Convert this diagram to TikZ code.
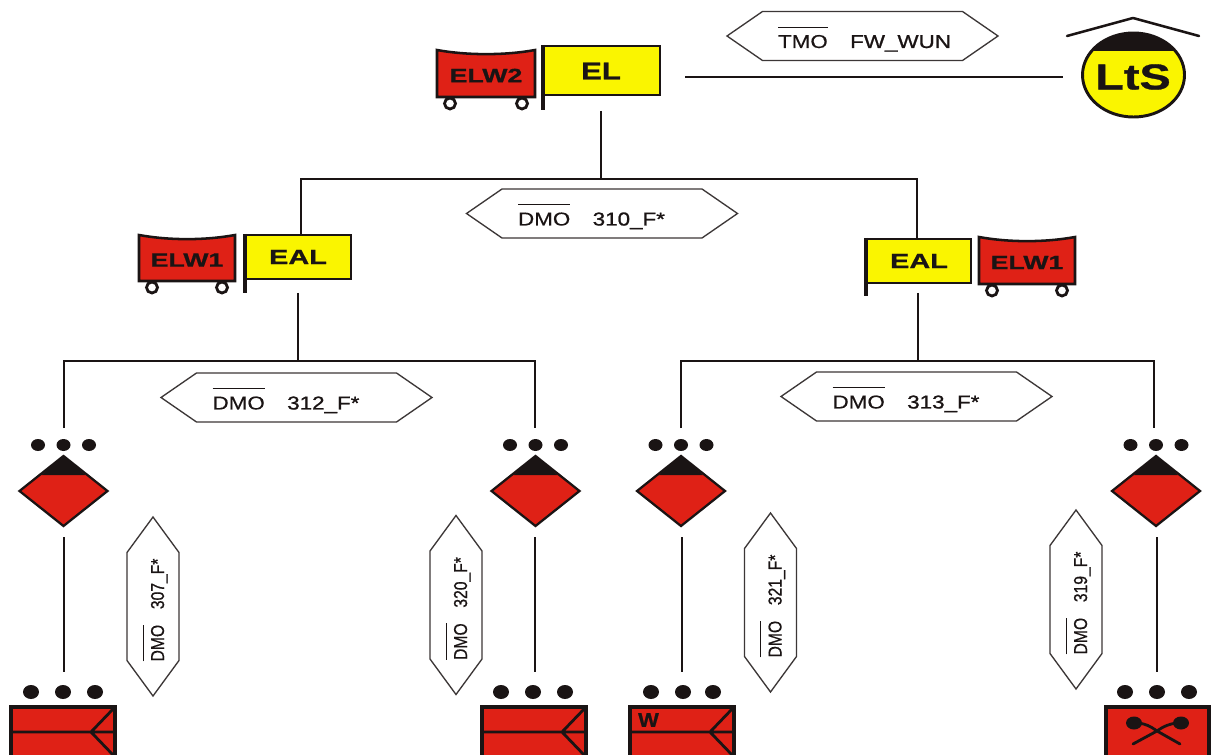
\documentclass[tikz,border=0pt]{standalone}
\usepackage{graphicx}
\usepackage{fontspec}
\setmainfont{Liberation Sans}
\newfontfamily\labf[FakeBold=0.35]{Liberation Sans}
\newfontfamily\labd[FakeBold=1.0]{Liberation Sans}
\newfontfamily\hvy[BoldFont={Liberation Sans Bold},BoldFeatures={FakeBold=0.8}]{Liberation Sans}
\definecolor{tred}{HTML}{DF2116}
\definecolor{tyel}{HTML}{FAF500}
\definecolor{tblk}{HTML}{1A1414}
\tikzset{
  conn/.style={draw=tblk,line width=1.8pt},
  hexa/.style={draw=tblk!85,line width=1pt,fill=white},
  flagbox/.style={draw=tblk,line width=2.2pt,line join=miter},
  flagpole/.style={draw=tblk,line width=3.4pt},
  unitbox/.style={draw=tblk,line width=2.3pt,fill=tred,line join=miter},
  unitline/.style={draw=tblk,line width=2.1pt},
  lab/.style={font=\fontsize{14}{14}\selectfont,inner sep=0pt,text=tblk},
  bigl/.style={font=\fontsize{15.5}{15.5}\selectfont\hvy\bfseries,inner sep=0pt,text=tblk},
}
\newcommand{\ovl}[1]{$\overline{\hbox{\rule{0pt}{1.02em}{\labf #1}}}$}
% horizontal hexagon: name, cx, cy, overlined, label, text shift
\newcommand{\hexH}[6]{%
  \draw[hexa] (#2-135.5,#3) -- (#2-100,#3-24.5) -- (#2+100,#3-24.5) -- (#2+135.5,#3) -- (#2+100,#3+24.5) -- (#2-100,#3+24.5) -- cycle;
  \node[lab,anchor=center] (#1) at (#2+#6,#3+3) {\scalebox{1.2}[1]{\ovl{#4}\hspace{14pt}{\labd #5}}};}
% vertical hexagon
\newcommand{\hexV}[5]{%
  \draw[hexa] (#2,#3-89.5) -- (#2+26,#3-54) -- (#2+26,#3+54) -- (#2,#3+89.5) -- (#2-26,#3+54) -- (#2-26,#3-54) -- cycle;
  \node[lab,anchor=center,rotate=90] (#1) at (#2+2,#3+3.5) {\scalebox{.84}[1]{\ovl{#4}\hspace{14pt}{\labd #5}}};}
% cart: name, x1, x2, ytop, ybot, text
\newcommand{\cart}[6]{%
  \draw[draw=tblk,line width=1.9pt,fill=tred] (#2,#4) .. controls (#2+30,#4+5.5) and (#3-30,#4+5.5) .. (#3,#4) -- (#3,#5) -- (#2,#5) -- cycle;
  \draw[draw=tblk,line width=2.1pt,fill=white] (#2+13,#5+6.5) circle [radius=5.5];
  \draw[draw=tblk,line width=2.1pt,fill=white] (#3-13,#5+6.5) circle [radius=5.5];
  \node[inner sep=0pt,text=tblk,font=\fontsize{14.5}{14.5}\selectfont\hvy\bfseries] (#1) at ({(#2+#3)/2},{(#4+#5)/2+2}) {\scalebox{1.38}[1]{#6}};}
% rank diamond with dots: name, cx, cy
\newcommand{\rankdia}[3]{%
  \foreach \dx in {-25.5,0,25.5}{\fill[tblk] (#2+\dx,#3-46) ellipse [x radius=7,y radius=6];}
  \draw[draw=tblk,line width=1.7pt,fill=tred,line join=miter] (#2-44,#3) -- (#2,#3-35) -- (#2+44,#3) -- (#2,#3+35) -- cycle;
  \fill[tblk] (#2,#3-35) -- (#2+22,#3-16) -- (#2-22,#3-16) -- cycle;
  \node[inner sep=0pt,minimum size=0pt] (#1) at (#2,#3) {};}
% unit dots: name, x1, x2, x3
\newcommand{\unitdots}[4]{%
  \foreach \xx in {#2,#3,#4}{\fill[tblk] (\xx,692) ellipse [x radius=8,y radius=7];}
  \coordinate (#1) at (#3,692);}
\begin{document}
\begin{tikzpicture}[x=0.75pt,y=-0.75pt]
\useasboundingbox (0,0) rectangle (1213,755);
\fill[white] (0,0) rectangle (1213,755);
\clip (0,0) rectangle (1213,755);

% junction coordinates
\coordinate (elb) at (601,111);
\coordinate (j0) at (601,179);
\coordinate (j0l) at (301,179);
\coordinate (j0r) at (917,179);
\coordinate (ealLt) at (301,234);
\coordinate (ealRt) at (917,238);
\coordinate (ealLb) at (298,293);
\coordinate (ealRb) at (918,293);
\coordinate (j1) at (298,361);
\coordinate (j1l) at (64,361);
\coordinate (j1r) at (535,361);
\coordinate (j2) at (918,361);
\coordinate (j2l) at (681,361);
\coordinate (j2r) at (1154,361);
\coordinate (d1t) at (64,428);
\coordinate (d2t) at (535,428);
\coordinate (d3t) at (681,428);
\coordinate (d4t) at (1154,428);
\coordinate (d1b) at (64,537);
\coordinate (d2b) at (535,537);
\coordinate (d3b) at (682,537);
\coordinate (d4b) at (1157,537);
\coordinate (u1t) at (64,672);
\coordinate (u2t) at (535,672);
\coordinate (u3t) at (682,672);
\coordinate (u4t) at (1157,672);
\coordinate (ell) at (685,77);
\coordinate (ltsl) at (1063,77);

% connectors
\draw[conn] (ell) -- (ltsl);
\draw[conn] (elb) -- (j0);
\draw[conn] (ealLt) -- (j0l) -- (j0r) -- (ealRt);
\draw[conn] (ealLb) -- (j1);
\draw[conn] (ealRb) -- (j2);
\draw[conn] (d1t) -- (j1l) -- (j1r) -- (d2t);
\draw[conn] (d3t) -- (j2l) -- (j2r) -- (d4t);
\draw[conn] (d1b) -- (u1t);
\draw[conn] (d2b) -- (u2t);
\draw[conn] (d3b) -- (u3t);
\draw[conn] (d4b) -- (u4t);

% hexagons
\hexH{h1}{862.5}{36}{TMO}{FW\_WUN}{2}
\hexH{h2}{602}{213.5}{DMO}{310\_F*}{-10.5}
\hexH{h3}{296.5}{397.5}{DMO}{312\_F*}{-10.5}
\hexH{h4}{916.5}{396.5}{DMO}{313\_F*}{-10.5}
\hexV{h5}{153}{606.5}{DMO}{307\_F*}
\hexV{h6}{456}{605}{DMO}{320\_F*}
\hexV{h7}{770.5}{602.5}{DMO}{321\_F*}
\hexV{h8}{1076}{599.5}{DMO}{319\_F*}

% flags
\fill[tyel] (543,46) rectangle (660,95);
\draw[flagbox] (543,46) rectangle (660,95);
\draw[flagpole] (543,45) -- (543,110);
\node[bigl,font=\fontsize{18}{18}\selectfont\hvy\bfseries] (el) at (601,71) {\scalebox{1.3}[1]{EL}};
\fill[tyel] (245,235) rectangle (351,279);
\draw[flagbox] (245,235) rectangle (351,279);
\draw[flagpole] (245,234) -- (245,293);
\node[bigl] (ealL) at (298,257) {\scalebox{1.4}[1]{EAL}};
\fill[tyel] (866,239) rectangle (971,283);
\draw[flagbox] (866,239) rectangle (971,283);
\draw[flagpole] (866,238) -- (866,296);
\node[bigl] (ealR) at (919,261) {\scalebox{1.4}[1]{EAL}};

% carts
\cart{elw2}{437}{535}{50}{97}{ELW2}
\cart{elw1L}{139}{235}{235}{281}{ELW1}
\cart{elw1R}{979}{1075}{237}{284}{ELW1}

% LtS
\draw[draw=tblk,line width=1.9pt,line cap=round,line join=round] (1067,36) -- (1133,18) -- (1199,36);
\begin{scope}
  \fill[tyel] (1133.5,75) ellipse [x radius=51,y radius=42];
  \clip (1070,20) rectangle (1200,51);
  \fill[tblk] (1133.5,75) ellipse [x radius=51,y radius=42];
\end{scope}
\draw[draw=tblk,line width=2.2pt] (1133.5,75) ellipse [x radius=51,y radius=42];
\node[inner sep=0pt,text=tblk,font=\fontsize{27}{27}\selectfont\hvy\bfseries] (lts) at (1133,77) {\scalebox{1.3}[1]{LtS}};

% diamonds
\rankdia{r1}{63.5}{491}
\rankdia{r2}{535.5}{491}
\rankdia{r3}{681}{491}
\rankdia{r4}{1156}{491}

% units
\unitdots{ud1}{31}{63}{95}
\unitdots{ud2}{501}{533}{565}
\unitdots{ud3}{651}{683}{713}
\unitdots{ud4}{1125}{1157}{1189}

\draw[unitbox] (11,707) rectangle (115,770);
\draw[unitbox] (482,707) rectangle (586,770);
\draw[unitbox] (630,707) rectangle (734,770);
\draw[unitbox] (1106,707) rectangle (1209,770);

\draw[unitline] (11,732) -- (115,732) (115,707) -- (91,732) -- (115,757);
\draw[unitline] (482,732) -- (586,732) (586,707) -- (562,732) -- (586,757);
\draw[unitline] (630,732) -- (734,732) (734,707) -- (710,732) -- (734,757);
\node[inner sep=0pt,text=tblk,font=\fontsize{15}{15}\selectfont\hvy\bfseries] (wlab) at (648.5,720) {\scalebox{1.1}[1]{W}};

% crossed spoons
\fill[tblk] (1134,723) ellipse [x radius=8,y radius=6.5];
\fill[tblk] (1181,723) ellipse [x radius=8,y radius=6.5];
\draw[unitline,line cap=round] (1138,723) .. controls (1146,724) and (1150,726) .. (1157,731) -- (1180,744);
\draw[unitline,line cap=round] (1177,723) .. controls (1169,724) and (1164,726) .. (1157,731) -- (1133,744);
\end{tikzpicture}
\end{document}
